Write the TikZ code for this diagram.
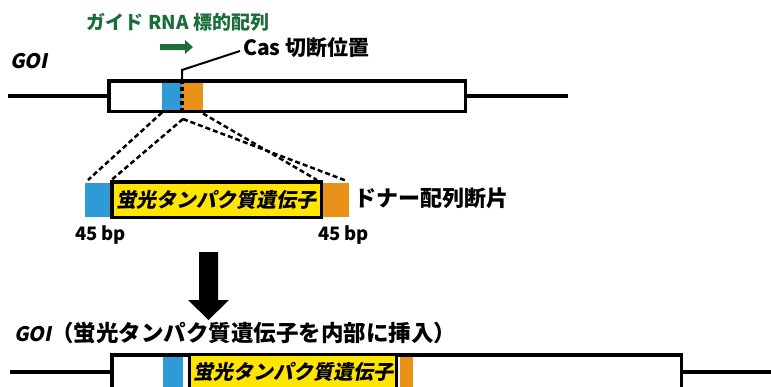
\documentclass[tikz,border=0pt]{standalone}
\usepackage{fontspec}
\newfontfamily\jp{Noto Sans CJK JP Black}
\newfontfamily\jpsl{Noto Sans CJK JP Black}[FakeSlant=0.2]
\definecolor{gblue}{HTML}{2E9BD6}
\definecolor{gorange}{HTML}{E8921A}
\definecolor{gyellow}{HTML}{FFE500}
\definecolor{ggreen}{HTML}{1B6E3A}
\begin{document}
\begin{tikzpicture}[x=1pt,y=-1pt,
  every node/.style={inner sep=0pt, outer sep=0pt},
  frame/.style={draw=black, line width=3.5pt, fill=white},
  bluebox/.style={fill=gblue, draw=none},
  orangebox/.style={fill=gorange, draw=none},
  yellowbox/.style={fill=gyellow, draw=black, line width=3.5pt},
  dna/.style={line width=4pt},
  dashline/.style={line width=2.5pt, dash pattern=on 5pt off 3pt},
  lbl/.style={font=\jp\fontsize{#1}{#1}\selectfont, anchor=west},
]
\useasboundingbox (0,0) rectangle (771,386);
\clip (0,0) rectangle (771,386);

% ---------- top GOI ----------
\node[frame, minimum width=356.5pt, minimum height=30.5pt, anchor=north west] (gene) at (108.75,80.75) {};
\coordinate (gl) at (8,96);
\coordinate (gr) at (568,96);
\draw[dna] (gl) -- (gene.west);
\draw[dna] (gene.east) -- (gr);
\node[bluebox, minimum width=20pt, minimum height=27pt, anchor=north west] (blue1) at (162,82.5) {};
\node[orangebox, minimum width=21pt, minimum height=27pt, anchor=north west] (orange1) at (182,82.5) {};
\coordinate (cutT) at (182,80);
\coordinate (cutB) at (182,112);
\draw[line width=3.5pt, dash pattern=on 3.5pt off 3.5pt] (cutT) -- (cutB);

\node[lbl=20, anchor=west] (goi) at (10,61) {\jpsl GOI};
\node[lbl=19, text=ggreen, anchor=center] (grna) at (178,22) {ガイド RNA 標的配列};
\fill[ggreen] (160,44) -- (185,44) -- (185,40) -- (193,47) -- (185,54) -- (185,50) -- (160,50) -- cycle;
\node[lbl=21] (cas) at (243,48) {Cas 切断位置};
\draw[line width=2pt] (cutT) -- (182,70) -- ([shift={(-3,3)}]cas.west);

% ---------- donor ----------
\node[bluebox, minimum width=25pt, minimum height=34pt, anchor=north west] (dblue) at (85,183) {};
\node[orangebox, minimum width=26pt, minimum height=34pt, anchor=north west] (dorange) at (323,183) {};
\node[yellowbox, minimum width=209.5pt, minimum height=35.5pt, anchor=center] (dyel) at (216.5,199.5) {};
\node[font=\jpsl\fontsize{20}{20}\selectfont] (dyeltext) at (dyel.center) {蛍光タンパク質遺伝子};
\node[lbl=22] (donorlbl) at (354,198) {ドナー配列断片};
\node[lbl=18.5] (bp1) at (75,235) {45 bp};
\node[lbl=18.5] (bp2) at (318,235) {45 bp};

\draw[dashline] ([shift={(0,3)}]blue1.south west) -- ([shift={(3,-3)}]dblue.north west);
\draw[dashline] ([shift={(1,7)}]cutB) -- ([shift={(0,-2)}]dyel.north west);
\draw[dashline] ([shift={(1,7)}]cutB) -- ([shift={(-2,-2)}]dorange.north east);
\draw[dashline] ([shift={(0,4)}]orange1.south east) -- ([shift={(-6,-3)}]dorange.north west);

% ---------- big arrow ----------
\fill (199,252) -- (218,252) -- (218,300) -- (229,300) -- (208.5,320) -- (188,300) -- (199,300) -- cycle;

% ---------- bottom GOI ----------
\node[lbl=22.5] (goi2) at (14,333) {\jpsl\fontsize{20}{20}\selectfont GOI\jp\fontsize{22.5}{22.5}\selectfont （蛍光タンパク質遺伝子を内部に挿入）};
\node[frame, minimum width=569.5pt, minimum height=34.5pt, anchor=north west] (bframe) at (111.75,354.75) {};
\coordinate (bl) at (10,372);
\coordinate (br) at (771,372);
\draw[dna] (bl) -- (bframe.west);
\draw[dna] (bframe.east) -- (br);
\node[bluebox, minimum width=20pt, minimum height=40pt, anchor=north west] (blue2) at (163,356.5) {};
\node[orangebox, minimum width=13pt, minimum height=40pt, anchor=north west] (orange2) at (400,356.5) {};
\node[yellowbox, line width=3pt, minimum width=207pt, minimum height=35pt, anchor=north west] (byel) at (189.5,354.5) {};
\node[font=\jpsl\fontsize{20}{20}\selectfont] (byeltext) at (293,372) {蛍光タンパク質遺伝子};
\end{tikzpicture}
\end{document}
